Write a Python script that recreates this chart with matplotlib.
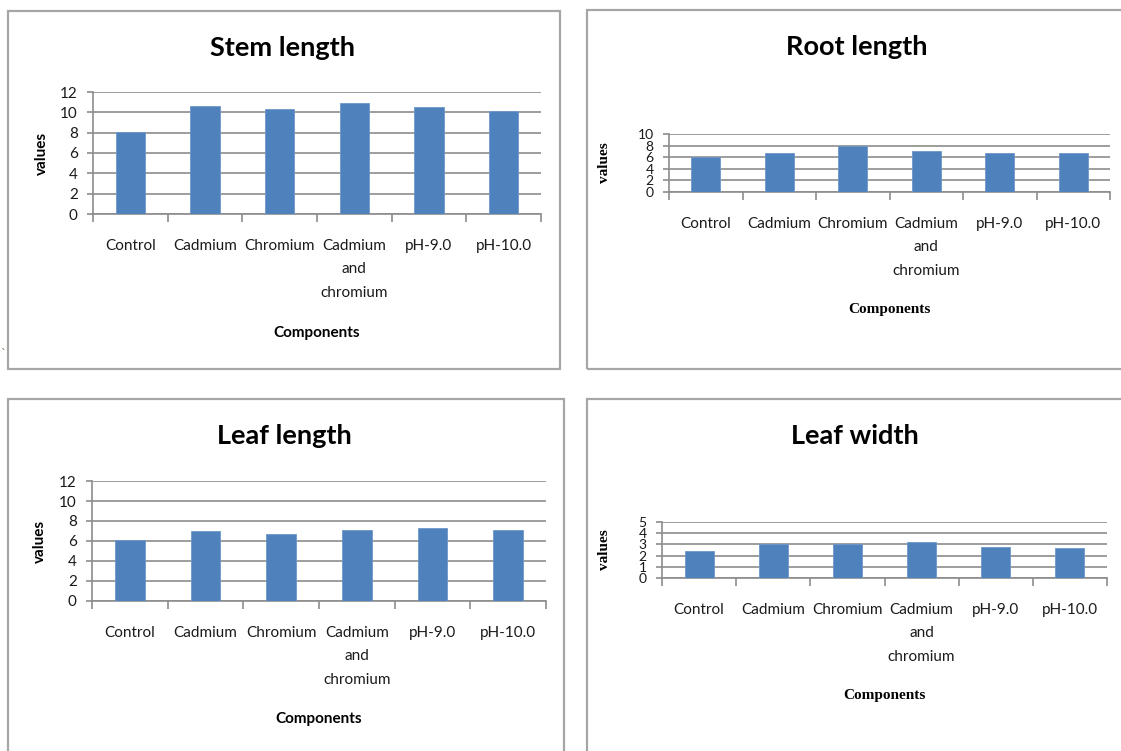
import numpy as np
import matplotlib
matplotlib.use("Agg")
import matplotlib.pyplot as plt
from matplotlib.patches import Rectangle

# categories and measured values for each plant trait
categories = ["Control", "Cadmium", "Chromium", "Cadmium\nand\nchromium", "pH-9.0", "pH-10.0"]
stem_length = [8.1, 10.6, 10.35, 10.9, 10.5, 10.15]
root_length = [6.0, 6.8, 8.0, 7.1, 6.8, 6.8]
leaf_length = [6.1, 7.05, 6.75, 7.15, 7.35, 7.15]
leaf_width = [2.4, 3.0, 3.0, 3.2, 2.75, 2.65]

W, H = 1121, 751
BAR = "#4F81BD"
GRID = "#8C8C8C"
BORDER = "#A6A6A6"
SANS = ["Lato", "DejaVu Sans"]
SERIF = ["Liberation Serif", "DejaVu Serif"]

fig = plt.figure(figsize=(W / 100, H / 100), dpi=100)
fig.patch.set_facecolor("white")


def fx(x):
    return x / W


def fy(y):
    return 1 - y / H


def panel_box(x0, y0, x1, y1):
    fig.patches.append(Rectangle((fx(x0), fy(y1)), fx(x1 - x0), (y1 - y0) / H,
                                 transform=fig.transFigure, fill=False,
                                 edgecolor=BORDER, linewidth=1.6))


def bar_panel(values, ymax, ystep, box, title, title_x, title_y, xlab_y, ylab_x,
              ylab_font, ytick_size=11):
    x0, y0, x1, y1 = box
    ax = fig.add_axes([fx(x0), fy(y1), fx(x1 - x0), (y1 - y0) / H])
    pos = np.arange(len(values)) + 0.5
    ax.bar(pos, values, width=0.39, color=BAR, edgecolor="#6F97C9", linewidth=0.6, zorder=3)
    ax.set_xlim(0, len(values))
    ax.set_ylim(0, ymax)
    ax.set_yticks(np.arange(0, ymax + 0.01, ystep))
    ax.yaxis.grid(True, color=GRID, linewidth=1.2, zorder=0)
    ax.set_axisbelow(True)
    for s in ["top", "right"]:
        ax.spines[s].set_visible(False)
    for s in ["left", "bottom"]:
        ax.spines[s].set_color(GRID)
        ax.spines[s].set_linewidth(1.2)
    ax.set_xticks(pos)
    ax.set_xticklabels(categories, family=SANS, fontsize=11, color="#1a1a1a",
                       linespacing=1.85)
    ax.tick_params(axis="x", which="major", length=0, pad=18)
    ax.set_xticks(np.arange(0, len(values) + 1), minor=True)
    ax.tick_params(axis="x", which="minor", length=6, width=1.2, color=GRID)
    ax.tick_params(axis="y", length=4, width=1.2, color=GRID, pad=7, labelsize=ytick_size)
    for lab in ax.get_yticklabels():
        lab.set_family(SANS)
        lab.set_color("#1a1a1a")
    cx = (x0 + x1) / 2
    fig.text(fx(title_x), fy(title_y), title, family=SANS, fontsize=19.5, fontweight="bold",
             ha="center", va="center")
    fig.text(fx(cx), fy(xlab_y), "Components", family=ylab_font, fontsize=11,
             fontweight="bold", ha="center", va="center")
    fig.text(fx(ylab_x), fy((y0 + y1) / 2), "values", family=ylab_font, fontsize=11,
             fontweight="bold", rotation=90, ha="center", va="center")
    return ax


# panel frames
panel_box(8, 11, 560, 369)
panel_box(587, 10, 1140, 369)
panel_box(8, 399, 564, 770)
panel_box(587, 399, 1140, 770)

bar_panel(stem_length, 12, 2, (93, 92, 541, 214), "Stem length", 283, 48, 333, 42, SANS)
bar_panel(root_length, 10, 2, (669, 134, 1110, 192), "Root length", 857, 47, 309, 604, SERIF,
          ytick_size=10)
bar_panel(leaf_length, 12, 2, (92, 481, 546, 601), "Leaf length", 284, 436, 719, 40, SANS)
bar_panel(leaf_width, 5, 1, (662, 522, 1107, 578), "Leaf width", 855, 436, 695, 604, SERIF,
          ytick_size=10)

fig.text(fx(3), fy(354), "`", fontsize=8, color="#806040", ha="center", va="center")

fig.savefig("out.png", dpi=100, facecolor="white")
